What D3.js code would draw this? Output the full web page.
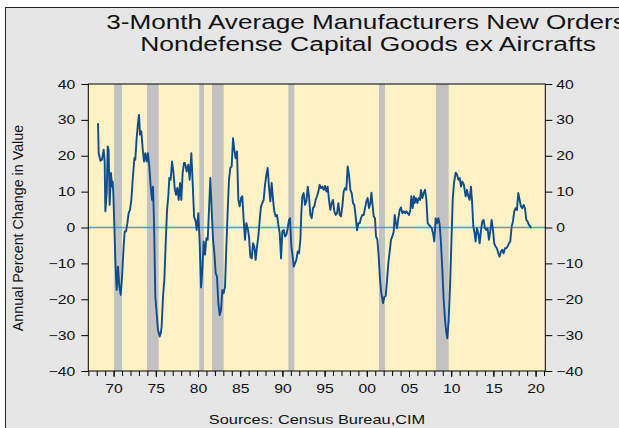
<!DOCTYPE html>
<html><head><meta charset="utf-8">
<script src="https://cdn.jsdelivr.net/npm/d3@7"></script>
<style>body{margin:0;background:#fff}svg{display:block;font-family:"Liberation Sans",Arial,sans-serif}</style>
</head><body><svg id="c" width="619" height="428"></svg>
<script>
const titleLines = ["3-Month Average Manufacturers New Orders", "Nondefense Capital Goods ex Aircrafts"];
const yAxisTitle = "Annual Percent Change in Value";
const sourceText = "Sources: Census Bureau,CIM";

const years = [
1968.15,1968.23,1968.43,1968.62,1968.82,1968.94,1969.02,1969.18,1969.30,1969.41,1969.53,1969.69,1969.81,1969.89,1969.97,
1970.09,1970.20,1970.36,1970.52,1970.68,1970.84,1971.00,1971.19,1971.31,1971.47,1971.63,1971.78,1971.94,
1972.10,1972.26,1972.46,1972.57,1972.73,1972.89,1973.01,1973.13,1973.28,1973.44,1973.60,1973.76,1973.92,
1974.07,1974.23,1974.39,1974.55,1974.67,1974.79,1974.94,1975.10,1975.26,1975.46,1975.58,1975.69,1975.85,
1976.01,1976.17,1976.33,1976.48,1976.60,1976.76,1976.92,1977.08,1977.23,1977.39,1977.55,1977.71,1977.87,
1978.02,1978.18,1978.34,1978.46,1978.66,1978.85,1979.01,1979.21,1979.37,1979.53,1979.72,1979.84,
1980.04,1980.20,1980.36,1980.51,1980.67,1980.83,1980.99,1981.15,1981.30,1981.46,1981.62,1981.78,1981.94,
1982.09,1982.25,1982.41,1982.57,1982.73,1982.88,1983.04,1983.20,1983.36,1983.52,1983.67,1983.83,1983.99,
1984.15,1984.30,1984.46,1984.62,1984.78,1984.94,1985.09,1985.25,1985.41,1985.57,1985.73,1985.89,
1986.04,1986.20,1986.36,1986.52,1986.67,1986.83,1986.99,1987.15,1987.31,1987.46,1987.62,1987.78,1987.94,
1988.10,1988.25,1988.41,1988.57,1988.73,1988.89,1989.04,1989.20,1989.36,1989.52,1989.68,1989.84,1989.99,
1990.15,1990.31,1990.47,1990.63,1990.78,1990.90,1991.06,1991.22,1991.34,1991.49,1991.65,1991.81,1991.97,
1992.13,1992.24,1992.36,1992.52,1992.68,1992.84,1993.00,1993.15,1993.31,1993.47,1993.63,1993.78,1993.94,
1994.10,1994.26,1994.42,1994.57,1994.73,1994.89,1995.05,1995.21,1995.36,1995.52,1995.68,1995.84,
1996.00,1996.15,1996.31,1996.47,1996.63,1996.79,1996.94,1997.10,1997.26,1997.42,1997.58,1997.73,1997.89,
1998.05,1998.21,1998.37,1998.52,1998.68,1998.84,1999.00,1999.16,1999.31,1999.47,1999.63,1999.79,1999.95,
2000.10,2000.26,2000.42,2000.55,2000.66,2000.82,2000.97,2001.09,2001.25,2001.41,2001.57,2001.72,2001.92,
2002.08,2002.24,2002.40,2002.55,2002.71,2002.87,2003.03,2003.19,2003.30,2003.42,2003.58,2003.74,2003.90,
2004.05,2004.21,2004.37,2004.53,2004.69,2004.84,2005.00,2005.16,2005.28,2005.44,2005.59,2005.67,2005.83,2005.99,
2006.15,2006.31,2006.42,2006.58,2006.74,2006.90,2007.06,2007.21,2007.37,2007.53,2007.69,2007.85,
2008.00,2008.16,2008.32,2008.48,2008.64,2008.79,2008.95,2009.11,2009.27,2009.43,2009.54,2009.70,2009.86,
2010.02,2010.18,2010.33,2010.53,2010.69,2010.85,2011.01,2011.16,2011.32,2011.51,2011.71,2011.87,
2012.02,2012.18,2012.34,2012.46,2012.62,2012.77,2012.89,2013.05,2013.21,2013.37,2013.52,2013.68,2013.84,
2014.00,2014.16,2014.31,2014.47,2014.63,2014.79,2014.95,2015.10,2015.26,2015.42,2015.58,2015.74,2015.89,
2016.05,2016.21,2016.37,2016.53,2016.68,2016.84,2017.00,2017.16,2017.32,2017.47,2017.63,2017.79,2017.95,
2018.11,2018.26,2018.42,2018.58,2018.74,2018.90,2019.05,2019.21,2019.37,2019.49
];
const values = [
29.1,20.7,18.6,18.9,21.7,18.4,4.5,9.6,22.6,21.7,6.3,15.2,11.4,12.8,9.1,
0.3,-9.0,-17.4,-10.9,-16.5,-18.8,-13.7,-5.3,-1.1,-1.1,1.2,4.0,4.9,
7.7,13.3,19.3,18.9,24.9,29.1,31.4,25.9,26.8,22.1,18.4,20.7,18.4,
20.7,17.0,11.4,7.7,11.4,1.2,-19.3,-23.9,-28.6,-30.4,-29.5,-27.6,-19.3,
-14.6,-4.4,4.9,8.7,13.8,13.3,18.4,15.6,11.0,9.1,11.0,7.7,12.4,
7.7,15.2,18.0,18.0,15.6,17.5,13.3,20.7,12.4,3.1,1.7,-0.7,
4.0,-4.4,-16.7,-11.8,-3.9,-7.6,-3.0,-3.4,4.9,13.8,4.9,-3.4,-7.2,
-12.7,-13.7,-21.1,-24.4,-23.0,-17.4,-18.3,-16.5,-5.3,4.9,13.3,16.6,17.0,
24.9,21.7,19.3,21.2,7.7,5.9,8.2,8.7,2.1,-3.4,1.2,-0.2,
-2.5,-8.1,-8.6,-4.4,-5.3,-9.0,-5.3,-2.5,2.1,5.9,6.8,7.7,11.9,
14.7,16.6,11.4,7.3,12.4,7.7,4.5,3.1,3.5,0.7,-1.6,-8.6,-1.1,
-0.7,-2.5,-2.0,-0.2,2.1,2.6,-5.3,-8.1,-10.9,-10.0,-9.0,-6.7,-7.2,
-3.4,4.0,8.7,9.6,6.3,7.3,11.4,8.7,3.5,2.6,5.4,5.9,7.7,
8.7,10.0,11.9,11.0,11.4,10.5,11.6,10.0,11.4,7.7,4.9,6.8,
7.7,4.5,3.5,4.0,6.8,3.5,3.1,5.9,10.0,11.0,10.5,17.0,14.7,
10.5,9.6,6.8,6.3,3.1,-0.8,1.2,1.2,2.6,3.5,3.5,5.4,7.3,
8.2,5.4,6.8,9.7,6.8,3.1,2.6,-2.5,-3.4,-8.1,-14.6,-18.3,-21.1,
-19.3,-19.1,-14.6,-10.0,-6.7,-3.4,-2.5,-1.1,3.5,1.7,-0.2,2.6,4.9,
5.6,4.0,4.5,4.0,4.5,4.0,3.5,4.9,8.7,5.4,8.7,6.8,8.2,6.8,
8.2,7.7,10.5,8.2,9.6,10.5,7.7,1.2,0.7,0.3,-0.2,-1.6,
-3.9,2.6,1.2,2.6,0.7,-4.4,-11.8,-20.2,-25.8,-29.5,-30.9,-25.8,-16.5,
-4.4,7.7,12.4,15.3,14.7,13.3,13.8,11.4,12.8,11.9,8.7,10.5,
8.7,7.7,11.4,7.7,0.3,-1.6,-3.9,-0.2,-1.6,-4.4,-1.1,1.7,2.1,
-0.2,-0.7,-0.2,-3.4,-1.1,2.1,-0.7,-4.4,-5.3,-5.8,-7.2,-8.1,-6.7,
-6.2,-7.2,-5.8,-5.8,-5.3,-4.4,-3.9,0.3,1.7,4.5,5.4,4.9,9.6,
7.7,5.9,5.4,6.3,5.4,2.1,1.7,0.7,0.3,-0.2
];

const recessionStart = [1970.05, 1973.95, 1980.15, 1981.66, 1990.70, 2001.44, 2008.20];
const recessionEnd   = [1970.99, 1975.34, 1980.71, 1983.04, 1991.41, 2002.15, 2009.70];

const yTicks = [-40, -30, -20, -10, 0, 10, 20, 30, 40];
const xMajorYears = [1970, 1975, 1980, 1985, 1990, 1995, 2000, 2005, 2010, 2015, 2020];
const xMajorLabels = ["70", "75", "80", "85", "90", "95", "00", "05", "10", "15", "20"];
const xMinorYears = d3.range(1967, 2022);

const SX = 1.26; // horizontal stretch of the text glyphs
const svg = d3.select("#c");
const L = 88.3, R = 545.3, T = 84, B = 371;

function stretchText(sel, sx = SX) {
  sel.each(function () {
    const t = d3.select(this);
    const xv = +t.attr("x") || 0;
    t.attr("x", xv / sx).attr("transform", `scale(${sx},1)`);
  });
}

// outer panel
svg.append("rect").attr("x", 5.5).attr("y", 7.5).attr("width", 640).attr("height", 440)
  .attr("fill", "#e6e6e6").attr("stroke", "#222").attr("stroke-width", 1);

const x = d3.scaleLinear().domain([1967, 2021.15]).range([L, R]);
const y = d3.scaleLinear().domain([-40, 40]).range([B, T]);

svg.append("rect").attr("x", L).attr("y", T).attr("width", R - L).attr("height", B - T).attr("fill", "#fdf2c6");

svg.append("g").selectAll("rect").data(recessionStart).join("rect")
  .attr("x", (d) => x(d)).attr("y", T)
  .attr("width", (d, i) => x(recessionEnd[i]) - x(d)).attr("height", B - T)
  .attr("fill", "#c2c2c2");

svg.append("line").attr("x1", L).attr("x2", R).attr("y1", y(0)).attr("y2", y(0))
  .attr("stroke", "#3fa3d6").attr("stroke-width", 1.3);

const pts = years.map((d, i) => [d, values[i]]);
svg.append("path").datum(pts)
  .attr("d", d3.line().x((d) => x(d[0])).y((d) => y(d[1])))
  .attr("fill", "none").attr("stroke", "#0f4c8c").attr("stroke-width", 1.9)
  .attr("stroke-linejoin", "round");

svg.append("rect").attr("x", L).attr("y", T).attr("width", R - L).attr("height", B - T)
  .attr("fill", "none").attr("stroke", "#000").attr("stroke-width", 1);

function styleAxis(g) {
  g.select(".domain").remove();
  g.selectAll("line").attr("stroke", "#000");
  g.selectAll("text").attr("font-family", "Liberation Sans, Arial, sans-serif")
    .attr("font-size", 12.5).attr("fill", "#111");
}

svg.append("g").attr("transform", `translate(${L},0)`)
  .call(d3.axisLeft(y).tickValues(yTicks).tickSize(7).tickPadding(6).tickFormat(d3.format("d")))
  .call(styleAxis).call((g) => g.selectAll("text").call(stretchText));
svg.append("g").attr("transform", `translate(${R},0)`)
  .call(d3.axisRight(y).tickValues(yTicks).tickSize(7).tickPadding(4).tickFormat(d3.format("d")))
  .call(styleAxis).call((g) => g.selectAll("text").call(stretchText));
svg.append("g").attr("transform", `translate(0,${B})`)
  .call(d3.axisBottom(x).tickValues(xMinorYears).tickSize(5).tickFormat(""))
  .call(styleAxis);
svg.append("g").attr("transform", `translate(0,${B})`)
  .call(d3.axisBottom(x).tickValues(xMajorYears).tickSize(6).tickPadding(7)
    .tickFormat((d, i) => xMajorLabels[i]))
  .call(styleAxis).call((g) => g.selectAll("text").call(stretchText));

// titles (the first line runs past the right edge, as in the original)
svg.append("text").attr("x", 366).attr("y", 29.5).attr("text-anchor", "middle")
  .attr("font-size", 21).attr("fill", "#111").text(titleLines[0]).call(stretchText, 1.245);
svg.append("text").attr("x", 368).attr("y", 51).attr("text-anchor", "middle")
  .attr("font-size", 21).attr("fill", "#111").text(titleLines[1]).call(stretchText);

svg.append("text").attr("transform", "translate(23,228) rotate(-90) scale(1,1.08)")
  .attr("text-anchor", "middle").attr("font-size", 14.3).attr("fill", "#111").text(yAxisTitle);

svg.append("text").attr("x", 317).attr("y", 424).attr("text-anchor", "middle")
  .attr("font-size", 13).attr("fill", "#111").text(sourceText).call(stretchText);
</script></body></html>
